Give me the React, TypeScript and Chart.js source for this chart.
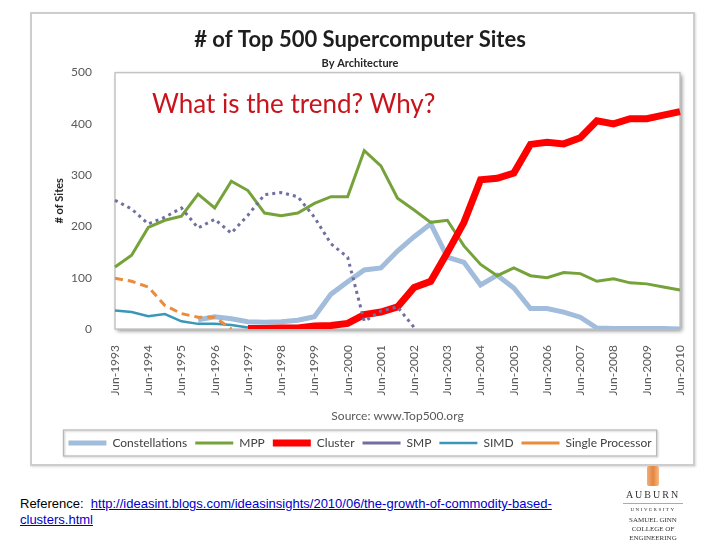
import React, { useEffect, useRef } from "react";
import { Chart, registerables } from "chart.js";

Chart.register(...registerables);

const categories = [
  "Jun-1993", "Nov-1993", "Jun-1994", "Nov-1994", "Jun-1995", "Nov-1995",
  "Jun-1996", "Nov-1996", "Jun-1997", "Nov-1997", "Jun-1998", "Nov-1998",
  "Jun-1999", "Nov-1999", "Jun-2000", "Nov-2000", "Jun-2001", "Nov-2001",
  "Jun-2002", "Nov-2002", "Jun-2003", "Nov-2003", "Jun-2004", "Nov-2004",
  "Jun-2005", "Nov-2005", "Jun-2006", "Nov-2006", "Jun-2007", "Nov-2007",
  "Jun-2008", "Nov-2008", "Jun-2009", "Nov-2009", "Jun-2010",
];

const constellations = [
  null, null, null, null, null, 18, 24, 20, 14, 13, 14, 17, 24, 68, 92, 115,
  119, 152, 180, 205, 140, 130, 86, 105, 80, 40, 40, 33, 23, 2, 1, 1, 1, 1, 0,
];
const mpp = [
  121, 144, 198, 212, 220, 263, 236, 288, 270, 226, 221, 226, 245, 258, 258,
  348, 318, 255, 232, 208, 212, 162, 126, 104, 119, 104, 100, 110, 108, 93, 98,
  90, 88, 82, 76,
];
const cluster = [
  null, null, null, null, null, null, null, null, 1, 1, 2, 2, 6, 7, 11, 28, 33,
  43, 81, 93, 149, 208, 291, 294, 304, 360, 364, 361, 373, 406, 400, 410, 410,
  417, 424,
];
const smp = [
  251, 234, 205, 218, 236, 197, 214, 187, 222, 262, 266, 258, 218, 166, 140,
  15, 35, 43, 3, null, null, null, null, null, null, null, null, null, null,
  null, null, null, null, null, null,
];
const simd = [
  36, 33, 25, 29, 15, 10, 10, 8, 3, null, null, null, null, null, null, null,
  null, null, null, null, null, null, null, null, null, null, null, null, null,
  null, null, null, null, null, null,
];
const singleProcessor = [
  99, 93, 82, 46, 30, 23, 23, 0, null, null, null, null, null, null, null, null,
  null, null, null, null, null, null, null, null, null, null, null, null, null,
  null, null, null, null, null, null,
];

const yTicks = [0, 100, 200, 300, 400, 500];

const plotBoxPlugin = {
  id: "plotBox",
  beforeDatasetsDraw(chart: any) {
    const { ctx, chartArea: a } = chart;
    ctx.save();
    ctx.shadowColor = "rgba(0,0,0,0.45)";
    ctx.shadowBlur = 4;
    ctx.shadowOffsetX = 2;
    ctx.shadowOffsetY = 2;
    ctx.fillStyle = "#ffffff";
    ctx.fillRect(a.left, a.top, a.right - a.left, a.bottom - a.top);
    ctx.restore();
    ctx.save();
    ctx.strokeStyle = "#c4c4c4";
    ctx.lineWidth = 1.5;
    ctx.strokeRect(a.left, a.top, a.right - a.left, a.bottom - a.top);
    ctx.restore();
  },
  afterDraw(chart: any) {
    const lg = chart.legend;
    if (!lg || !lg.legendHitBoxes || !lg.legendHitBoxes.length) return;
    const boxes = lg.legendHitBoxes;
    let l = Infinity, r = -Infinity, t = Infinity, b = -Infinity;
    for (const h of boxes) {
      l = Math.min(l, h.left);
      r = Math.max(r, h.left + h.width);
      t = Math.min(t, h.top);
      b = Math.max(b, h.top + h.height);
    }
    const { ctx } = chart;
    ctx.save();
    ctx.strokeStyle = "#b8b8b8";
    ctx.lineWidth = 1.2;
    ctx.shadowColor = "rgba(0,0,0,0.25)";
    ctx.shadowBlur = 2;
    ctx.shadowOffsetX = 1;
    ctx.shadowOffsetY = 1;
    ctx.strokeRect(l - 5, t - 7, r - l + 10, b - t + 14);
    ctx.restore();
  },
};

function ChartView() {
  const ref = useRef<HTMLCanvasElement | null>(null);
  useEffect(() => {
    if (!ref.current) return;
    Chart.defaults.font.family = "Lato, 'Open Sans', sans-serif";
    const chart = new Chart(ref.current, {
      type: "line",
      data: {
        labels: categories,
        datasets: [
          {
            label: "Constellations",
            data: constellations,
            borderColor: "#a2bcdc",
            backgroundColor: "#a2bcdc",
            borderWidth: 5,
            pointRadius: 0,
            order: 6,
          },
          {
            label: "MPP",
            data: mpp,
            borderColor: "#76a23a",
            backgroundColor: "#76a23a",
            borderWidth: 3,
            pointRadius: 0,
            order: 5,
          },
          {
            label: "Cluster",
            data: cluster,
            borderColor: "#ff0000",
            backgroundColor: "#ff0000",
            borderWidth: 7,
            pointRadius: 0,
            order: 4,
          },
          {
            label: "SMP",
            data: smp,
            borderColor: "#6f6fa2",
            backgroundColor: "#6f6fa2",
            borderWidth: 3,
            borderDash: [3, 4],
            pointRadius: 0,
            order: 3,
          },
          {
            label: "SIMD",
            data: simd,
            borderColor: "#3a97b6",
            backgroundColor: "#3a97b6",
            borderWidth: 2.5,
            pointRadius: 0,
            order: 2,
          },
          {
            label: "Single Processor",
            data: singleProcessor,
            borderColor: "#ea8c3a",
            backgroundColor: "#ea8c3a",
            borderWidth: 3,
            borderDash: [8, 5],
            pointRadius: 0,
            order: 1,
          },
        ],
      },
      options: {
        responsive: false,
        animation: false,
        spanGaps: false,
        layout: { padding: { left: 0, right: 0, top: 0, bottom: 11 } },
        plugins: {
          title: {
            display: true,
            text: "# of Top 500 Supercomputer Sites",
            color: "#1e1e1e",
            font: { size: 22, weight: "bold" },
            padding: { top: 27, bottom: 3 },
          },
          subtitle: {
            display: true,
            text: "By Architecture",
            color: "#262626",
            font: { size: 11, weight: "bold" },
            padding: { top: 0, bottom: 3 },
          },
          legend: {
            position: "bottom",
            labels: {
              usePointStyle: true,
              pointStyle: "line",
              pointStyleWidth: 38,
              color: "#404040",
              font: { size: 12 },
              padding: 8,
              sort: (a: any, b: any) => a.datasetIndex - b.datasetIndex,
            },
          },
          tooltip: { enabled: false },
        },
        scales: {
          x: {
            type: "category",
            offset: false,
            grid: { display: false },
            border: { display: false },
            ticks: {
              autoSkip: false,
              maxRotation: 90,
              minRotation: 90,
              padding: 8,
              color: "#595959",
              font: { size: 12 },
              callback: (_v: any, i: number) => (i % 2 === 0 ? categories[i] : ""),
            },
            title: {
              display: true,
              text: "Source: www.Top500.org",
              color: "#595959",
              font: { size: 12 },
              padding: { top: 0, bottom: 6 },
            },
            afterFit: (s: any) => {
              s.height = 100;
            },
          },
          y: {
            min: 0,
            max: 500,
            grid: { display: false },
            border: { display: false },
            afterBuildTicks: (s: any) => {
              s.ticks = yTicks.map((v) => ({ value: v }));
            },
            ticks: {
              color: "#595959",
              font: { size: 12 },
              padding: 15,
            },
            title: {
              display: true,
              text: "# of Sites",
              color: "#262626",
              font: { size: 11, weight: "bold" },
              padding: { top: 53, bottom: 0 },
            },
            afterFit: (s: any) => {
              s.width = 115;
            },
          },
          yRight: {
            position: "right",
            min: 0,
            max: 500,
            grid: { display: false },
            border: { display: false },
            ticks: { display: false },
            afterFit: (s: any) => {
              s.width = 40;
            },
          },
        },
      },
      plugins: [plotBoxPlugin],
    });
    return () => chart.destroy();
  }, []);
  return (
    <canvas
      ref={ref}
      width={720}
      height={470}
      style={{ position: "absolute", left: 0, top: 0, width: 720, height: 470 }}
    />
  );
}

export default function App() {
  return (
    <div
      style={{
        position: "absolute",
        left: 0,
        top: 0,
        width: 720,
        height: 540,
        background: "#ffffff",
        overflow: "hidden",
      }}
    >
      <div
        style={{
          position: "absolute",
          left: 30,
          top: 12,
          width: 661,
          height: 450,
          border: "2px solid #cdcdcd",
          boxShadow: "1px 1px 2px rgba(0,0,0,0.15)",
          background: "#ffffff",
        }}
      />
      <ChartView />
      <div
        style={{
          position: "absolute",
          left: 152,
          top: 87,
          fontFamily: "Lato, 'Open Sans', sans-serif",
          fontSize: 26,
          color: "#c8141c",
          whiteSpace: "nowrap",
          lineHeight: "32px",
        }}
      >
        What is the trend? Why?
      </div>
      <div
        style={{
          position: "absolute",
          left: 20,
          top: 496,
          fontFamily: "'Liberation Sans', Arial, sans-serif",
          fontSize: 13,
          lineHeight: "16px",
          color: "#000000",
          whiteSpace: "nowrap",
        }}
      >
        <span>Reference:&nbsp; </span>
        <span style={{ color: "#0000cc", textDecoration: "underline" }}>
          http://ideasint.blogs.com/ideasinsights/2010/06/the-growth-of-commodity-based-
        </span>
        <br />
        <span style={{ color: "#0000cc", textDecoration: "underline" }}>clusters.html</span>
      </div>
      <div
        style={{
          position: "absolute",
          left: 608,
          top: 466,
          width: 90,
          textAlign: "center",
          fontFamily: "'Liberation Serif', 'DejaVu Serif', serif",
          color: "#333333",
        }}
      >
        <div
          style={{
            width: 12,
            height: 20,
            margin: "0 auto",
            background: "linear-gradient(90deg,#f0a060,#e07020,#f4b070)",
            borderRadius: 2,
            opacity: 0.85,
          }}
        />
        <div style={{ fontSize: 10, letterSpacing: 2, lineHeight: "14px", marginTop: 2 }}>AUBURN</div>
        <div style={{ width: 60, height: 1, background: "#d8a070", margin: "1px auto 2px" }} />
        <div style={{ fontSize: 5, letterSpacing: 1.5, lineHeight: "8px" }}>UNIVERSITY</div>
        <div style={{ fontSize: 7, lineHeight: "9px", marginTop: 2 }}>SAMUEL GINN</div>
        <div style={{ fontSize: 7, lineHeight: "9px" }}>COLLEGE OF ENGINEERING</div>
      </div>
    </div>
  );
}
